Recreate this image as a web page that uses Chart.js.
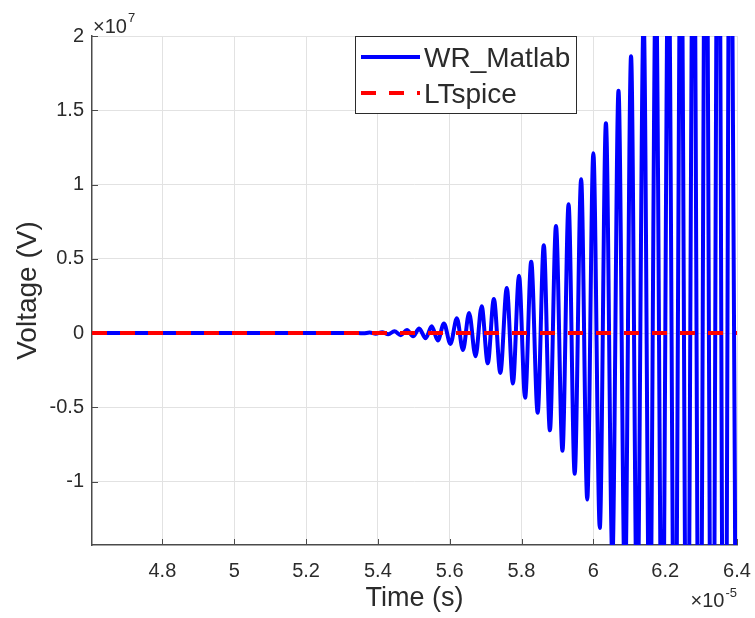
<!DOCTYPE html>
<html>
<head>
<meta charset="utf-8">
<script src="https://cdn.jsdelivr.net/npm/chart.js@4/dist/chart.umd.min.js"></script>
<style>
html,body{margin:0;padding:0;background:#ffffff;}
#wrap{width:755px;height:618px;position:relative;}
</style>
</head>
<body>
<div id="wrap"><canvas id="c" width="755" height="618"></canvas></div>
<script>
// ---- data (time in units of 1e-5 s, voltage in units of 1e7 V) ----
const wrMatlabTimeE5 = [
  4.604, 5.345, 5.360, 5.377, 5.394, 5.412, 5.429, 5.446, 5.464, 5.481,
  5.498, 5.515, 5.533, 5.550, 5.567, 5.584, 5.602, 5.620, 5.637, 5.654,
  5.672, 5.689, 5.706, 5.723, 5.741, 5.759, 5.776, 5.793, 5.810, 5.827,
  5.845, 5.862, 5.879, 5.896, 5.914, 5.931, 5.948, 5.966, 5.983, 6.000,
  6.018, 6.035, 6.053, 6.070, 6.088, 6.105, 6.122, 6.140, 6.157, 6.174,
  6.192, 6.209, 6.227, 6.244, 6.261, 6.279, 6.296, 6.313, 6.331, 6.348,
  6.365, 6.382, 6.400
];
const wrMatlabVoltE7 = [
  0, 0, -0.002, 0.003, -0.004, 0.006, -0.008, 0.012, -0.014, 0.020,
  -0.022, 0.030, -0.035, 0.045, -0.050, 0.065, -0.073, 0.099, -0.114, 0.135,
  -0.157, 0.181, -0.204, 0.230, -0.269, 0.304, -0.340, 0.386, -0.435, 0.480,
  -0.536, 0.592, -0.655, 0.721, -0.793, 0.867, -0.948, 1.035, -1.121, 1.211,
  -1.312, 1.413, -1.520, 1.631, -1.750, 1.864, -2.000, 2.120, -2.270, 2.400,
  -2.560, 2.700, -2.880, 3.020, -3.220, 3.360, -3.580, 3.720, -3.960, 4.100,
  -4.360, 4.500, -4.750
];
const ltspiceTimeE5 = [4.604, 6.400];
const ltspiceVoltE7 = [0, 0];

const seriesNames = ['WR_Matlab', 'LTspice'];
const xTickValues = [4.8, 5.0, 5.2, 5.4, 5.6, 5.8, 6.0, 6.2, 6.4];
const xTickLabels = ['4.8', '5', '5.2', '5.4', '5.6', '5.8', '6', '6.2', '6.4'];
const yTickValues = [-1, -0.5, 0, 0.5, 1, 1.5, 2];
const yTickLabels = ['-1', '-0.5', '0', '0.5', '1', '1.5', '2'];
const xRange = [4.604, 6.4];
const yRange = [-1.427, 2];
const xExponent = '-5';
const yExponent = '7';
const xTitle = 'Time (s)';
const yTitle = 'Voltage (V)';

// ---- styling ----
const FONT = '"Liberation Sans", Arial, Helvetica, sans-serif';
const AXIS = '#4a4a4a';
const TEXT = '#2b2b2b';
const GRID = '#e2e2e2';

const toPoints = (xs, ys) => xs.map((x, i) => ({x: x, y: ys[i]}));

const decor = {
  id: 'decor',
  beforeDatasetsDraw(chart) {
    const ctx = chart.ctx, a = chart.chartArea;
    const xs = chart.scales.x, ys = chart.scales.y;
    ctx.save();
    ctx.strokeStyle = AXIS;
    ctx.lineWidth = 1;
    xTickValues.forEach(v => {
      const px = Math.round(xs.getPixelForValue(v)) + 0.5;
      ctx.beginPath(); ctx.moveTo(px, a.bottom); ctx.lineTo(px, a.bottom - 6); ctx.stroke();
    });
    yTickValues.forEach(v => {
      const py = Math.round(ys.getPixelForValue(v)) + 0.5;
      ctx.beginPath(); ctx.moveTo(a.left, py); ctx.lineTo(a.left + 6, py); ctx.stroke();
    });
    ctx.restore();
  },
  afterDraw(chart) {
    const ctx = chart.ctx, a = chart.chartArea;
    ctx.save();
    ctx.fillStyle = TEXT;
    ctx.textBaseline = 'alphabetic';
    ctx.textAlign = 'left';
    // y exponent
    ctx.font = '20px ' + FONT;
    ctx.fillText('\u00d710', a.left + 1, a.top - 3);
    let w = ctx.measureText('\u00d710').width;
    ctx.font = '13px ' + FONT;
    ctx.fillText(yExponent, a.left + 1 + w + 1, a.top - 14);
    // x exponent
    ctx.font = '13px ' + FONT;
    const we = ctx.measureText(xExponent).width;
    ctx.font = '20px ' + FONT;
    w = ctx.measureText('\u00d710').width;
    const sx = a.right - we - w - 1;
    ctx.fillText('\u00d710', sx, 607);
    ctx.font = '13px ' + FONT;
    ctx.fillText(xExponent, sx + w + 1, 597);

    // legend
    const lx = 355, ly = 36, lw = 221, lh = 77;
    ctx.fillStyle = '#ffffff';
    ctx.fillRect(lx, ly, lw, lh);
    ctx.strokeStyle = '#2b2b2b';
    ctx.lineWidth = 1;
    ctx.setLineDash([]);
    ctx.strokeRect(lx + 0.5, ly + 0.5, lw, lh);
    const rows = [57, 93];
    chart.data.datasets.forEach((ds, i) => {
      const y = rows[i];
      ctx.save();
      ctx.strokeStyle = ds.borderColor;
      ctx.lineWidth = ds.borderWidth;
      ctx.lineCap = 'butt';
      ctx.setLineDash(ds.borderDash || []);
      ctx.beginPath(); ctx.moveTo(361, y); ctx.lineTo(420, y); ctx.stroke();
      ctx.restore();
      ctx.fillStyle = TEXT;
      ctx.font = '28px ' + FONT;
      ctx.textBaseline = 'middle';
      ctx.fillText(ds.label, 424, y + 2);
    });
    ctx.restore();
  }
};

new Chart(document.getElementById('c'), {
  type: 'line',
  data: {
    datasets: [
      {
        label: seriesNames[0],
        data: toPoints(wrMatlabTimeE5, wrMatlabVoltE7),
        borderColor: '#0000ff',
        borderWidth: 4,
        pointRadius: 0,
        cubicInterpolationMode: 'monotone',
        fill: false,
        clip: 0,
        order: 1
      },
      {
        label: seriesNames[1],
        data: toPoints(ltspiceTimeE5, ltspiceVoltE7),
        borderColor: '#ff0000',
        borderWidth: 4,
        borderDash: [15, 13],
        pointRadius: 0,
        fill: false,
        clip: 0,
        order: 0
      }
    ]
  },
  options: {
    responsive: false,
    animation: false,
    devicePixelRatio: 1,
    layout: {padding: {top: 36, right: 18, left: 0, bottom: 0}},
    plugins: {legend: {display: false}, tooltip: {enabled: false}},
    scales: {
      x: {
        type: 'linear',
        min: xRange[0], max: xRange[1],
        afterBuildTicks: s => { s.ticks = xTickValues.map(v => ({value: v})); },
        afterFit: s => { s.height = 73; s.paddingLeft = 0; s.paddingRight = 0; },
        ticks: {
          autoSkip: false, maxRotation: 0, padding: 14,
          color: TEXT, font: {family: FONT, size: 20},
          callback: (v) => { const i = xTickValues.indexOf(v); return i >= 0 ? xTickLabels[i] : ''; }
        },
        grid: {color: GRID, lineWidth: 1, drawTicks: false},
        border: {display: true, color: AXIS, width: 1.5},
        title: {display: true, text: xTitle, color: TEXT, font: {family: FONT, size: 27}, padding: {top: 0, bottom: 3}}
      },
      y: {
        type: 'linear',
        min: yRange[0], max: yRange[1],
        afterBuildTicks: s => { s.ticks = yTickValues.map(v => ({value: v})); },
        afterFit: s => { s.width = 92; s.paddingTop = 0; s.paddingBottom = 0; },
        ticks: {
          padding: 8,
          color: TEXT, font: {family: FONT, size: 20},
          callback: (v) => { const i = yTickValues.indexOf(v); return i >= 0 ? yTickLabels[i] : ''; }
        },
        grid: {color: GRID, lineWidth: 1, drawTicks: false},
        border: {display: true, color: AXIS, width: 1.5},
        title: {display: true, text: yTitle, color: TEXT, font: {family: FONT, size: 28}, padding: {top: 11, bottom: 0}}
      }
    }
  },
  plugins: [decor]
});
</script>
</body>
</html>
